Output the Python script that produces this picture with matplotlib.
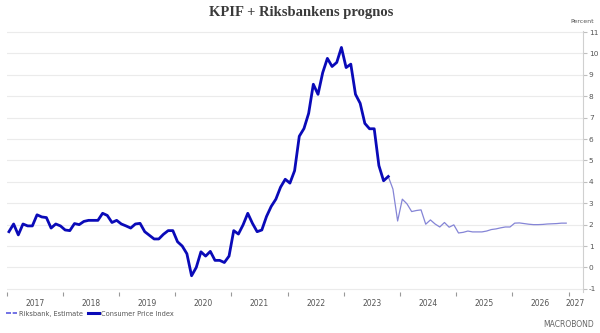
import numpy as np
import matplotlib.pyplot as plt
from matplotlib.lines import Line2D

# KPIF, annual change (%), monthly Jan 2017 - Oct 2023
cpi = [
    1.67, 2.03, 1.52, 2.03, 1.94, 1.94, 2.46, 2.36, 2.33, 1.84, 2.03, 1.94,   # 2017
    1.75, 1.72, 2.05, 2.00, 2.15, 2.20, 2.20, 2.20, 2.53, 2.43, 2.10, 2.20,   # 2018
    2.03, 1.94, 1.84, 2.03, 2.06, 1.67, 1.50, 1.33, 1.33, 1.55, 1.72, 1.72,   # 2019
    1.20, 1.00, 0.64, -0.39, 0.00, 0.73, 0.53, 0.75, 0.33, 0.33, 0.23, 0.53,  # 2020
    1.72, 1.56, 1.99, 2.53, 2.06, 1.67, 1.75, 2.38, 2.85, 3.19, 3.75, 4.12,   # 2021
    3.94, 4.52, 6.13, 6.49, 7.20, 8.56, 8.09, 9.10, 9.77, 9.39, 9.58, 10.28,  # 2022
    9.34, 9.50, 8.09, 7.67, 6.73, 6.48, 6.48, 4.76, 4.05, 4.25,               # 2023
]

# Riksbank forecast, monthly Oct 2023 - Dec 2026
estimate = [
    4.25, 3.66, 2.17,
    3.19, 2.97, 2.61, 2.66, 2.69, 2.02, 2.22, 2.03, 1.89, 2.10, 1.88, 1.99,   # 2024
    1.61, 1.64, 1.70, 1.66, 1.66, 1.66, 1.70, 1.77, 1.80, 1.85, 1.89, 1.89,   # 2025
    2.07, 2.08, 2.05, 2.02, 2.00, 2.00, 2.01, 2.03, 2.04, 2.05, 2.07, 2.07,   # 2026
]

years = list(range(2017, 2028))
yticks = list(range(-1, 12))

x_cpi = 2017 + (np.arange(len(cpi)) + 0.5) / 12
x_est = 2023 + (np.arange(len(estimate)) + 9.5) / 12

fig = plt.figure(figsize=(6, 3.33), dpi=100)
ax = fig.add_axes([0.011, 0.123, 0.960, 0.784])

ax.plot(x_est, estimate, color='#8585d6', lw=0.9, zorder=3)
ax.plot(x_cpi, cpi, color='#0a0ab8', lw=2.0, zorder=4, solid_joinstyle='round')

ax.set_xlim(2017.0, 2027.25)
ax.set_ylim(-1.15, 11.05)

for s in ['left', 'top', 'bottom']:
    ax.spines[s].set_visible(False)
ax.spines['right'].set_color('#d0d0d0')
ax.spines['right'].set_linewidth(0.8)

ax.yaxis.tick_right()
ax.set_yticks(yticks)
ax.set_yticklabels([str(v) for v in yticks])
ax.tick_params(axis='y', length=3, color='#c0c0c0', labelsize=5.3,
               labelcolor='#555555', pad=1.5)
ax.grid(axis='y', color='#ebebeb', lw=0.8)

# year boundaries as minor ticks, labels centred in each year
ax.set_xticks(years, minor=True)
mids = [y + 0.5 for y in years[:-1]] + [2027.125]
ax.set_xticks(mids)
ax.set_xticklabels([str(y) for y in years])
ax.tick_params(axis='x', which='major', length=0, labelsize=5.5,
               labelcolor='#555555', pad=5)
ax.tick_params(axis='x', which='minor', length=3, color='#999999', width=0.8)

fig.text(0.502, 0.962, 'KPIF + Riksbankens prognos', ha='center', va='center',
         family='Liberation Serif', fontweight='bold', fontsize=10.5,
         color='#3a3a3a')
fig.text(0.99, 0.934, 'Percent', ha='right', va='center', fontsize=4.5,
         color='#555555')

handles = [Line2D([], [], color='#5a5ae0', lw=1.2, ls=(0, (3, 1))),
           Line2D([], [], color='#0a0ab8', lw=2.2)]
fig.legend(handles, ['Riksbank, Estimate', 'Consumer Price Index'],
           loc='center left', bbox_to_anchor=(0.0, 0.058), ncol=2, frameon=False,
           fontsize=4.8, handlelength=1.6, handletextpad=0.3, columnspacing=0.8,
           labelcolor='#555555')

fig.text(0.99, 0.027, 'MACROBOND', ha='right', va='center', fontsize=5.5,
         color='#666666', family='DejaVu Sans')

fig.savefig('out.png', dpi=100)
